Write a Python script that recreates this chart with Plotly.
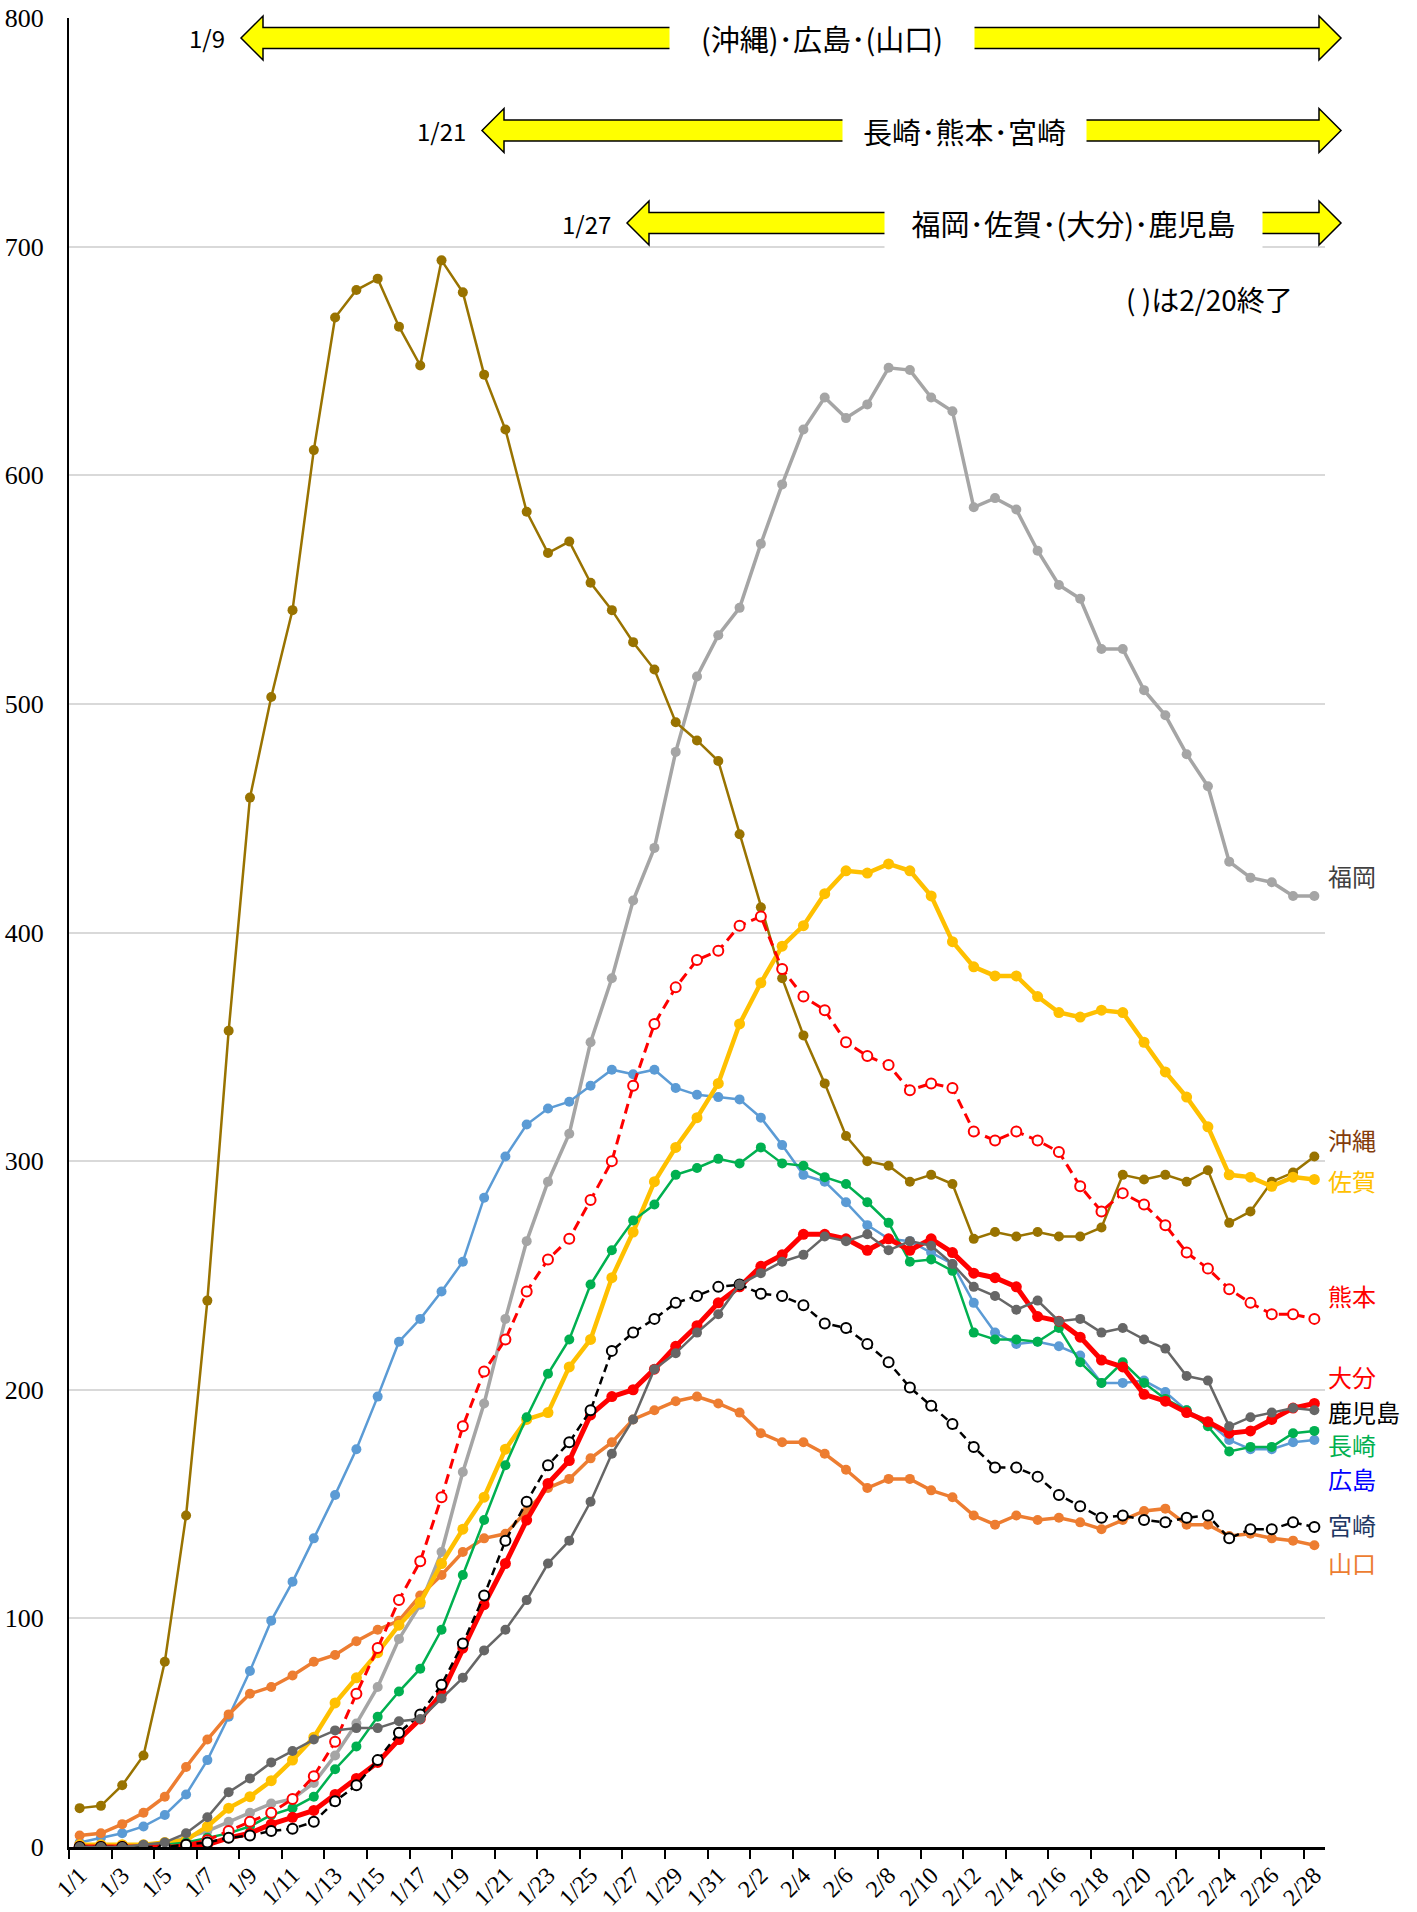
import plotly.graph_objects as go

dates = [f"1/{d}" for d in range(1, 32)] + [f"2/{d}" for d in range(1, 29)]

okinawa = [17,18,27,40,81,145,239,357,459,503,541,611,669,681,686,665,648,694,680,644,620,584,566,571,553,541,527,515,492,484,475,443,411,380,355,334,311,300,298,291,294,290,266,269,267,269,267,267,271,294,292,294,291,296,273,278,291,295,302]
fukuoka = [1,1,1,1,2,4,7,11,15,19,21,28,40,54,70,91,106,129,164,194,231,265,291,312,352,380,414,437,479,512,530,542,570,596,620,634,625,631,647,646,634,628,586,590,585,567,552,546,524,524,506,495,478,464,431,424,422,416,416]
saga = [1,1,1,1,2,3,9,17,22,29,38,48,63,74,85,97,107,124,139,153,174,187,190,210,222,249,269,291,306,319,334,360,378,394,403,417,427,426,430,427,416,396,385,381,381,372,365,363,366,365,352,339,328,315,294,293,289,293,292]
kumamoto = [0,0,0,0,0,1,3,7,11,15,21,31,46,67,87,108,125,153,184,208,222,243,257,266,283,300,333,360,376,388,392,403,407,384,372,366,352,346,342,331,334,332,313,309,313,309,304,289,278,286,281,272,260,253,244,238,233,233,231]
hiroshima = [2,4,6,9,14,23,38,57,77,99,116,135,154,174,197,221,231,243,256,284,302,316,323,326,333,340,338,340,332,329,328,327,319,307,294,291,282,272,266,265,260,255,238,225,220,221,219,215,203,203,204,199,191,186,178,174,174,177,178]
nagasaki = [0,0,0,0,1,2,4,6,9,14,17,22,34,44,57,68,78,95,119,143,167,188,207,222,246,261,274,281,294,297,301,299,306,299,298,293,290,282,273,256,257,252,225,222,222,221,227,212,203,212,203,196,191,184,173,175,175,181,182]
oita = [0,0,0,0,0,0,1,4,6,10,13,16,23,30,37,47,56,67,87,106,124,143,159,169,189,197,200,209,219,228,238,245,254,259,268,268,266,261,266,261,266,260,251,249,245,232,230,223,213,210,198,195,190,186,181,182,187,192,194]
kagoshima = [0,0,0,1,2,6,13,24,30,37,42,47,51,52,52,55,56,65,74,86,95,108,124,134,151,172,187,209,216,225,233,246,251,256,259,267,265,268,261,265,263,255,245,241,235,239,230,231,225,227,222,218,206,204,184,188,190,192,191]
miyazaki = [0,0,0,0,0,1,2,4,5,7,8,11,20,27,38,50,58,71,89,110,134,151,167,177,191,217,225,231,238,241,245,246,242,241,237,229,227,220,212,201,193,185,175,166,166,162,154,149,144,145,143,142,144,145,135,139,139,142,140]
yamaguchi = [5,6,10,15,22,35,47,58,67,70,75,81,84,90,95,99,110,119,129,135,137,147,157,161,170,177,187,191,195,197,194,190,181,177,177,172,165,157,161,161,156,153,145,141,145,143,144,142,139,143,147,148,141,141,136,137,135,134,132]

label_names = ["福岡", "沖縄", "佐賀", "熊本", "大分", "鹿児島", "長崎", "広島", "宮崎", "山口"]
label_y = [425, 309.5, 291.6, 241.3, 206, 190.6, 176, 161.3, 141.2, 124.6]
label_colors = ["#404040", "#843C0C", "#FFC000", "#FF0000", "#FF0000", "#000000", "#00B050", "#0000FF", "#1F3864", "#ED7D31"]

y_ticks = [0, 100, 200, 300, 400, 500, 600, 700, 800]

# layout geometry (pixels)
W, H = 1417, 1912
L, R, T, B = 69, 92, 18, 65
PW, PH = W - L - R, H - T - B

def px(x):
    return (x - L) / PW

def py(y):
    return (H - B - y) / PH

xs = list(range(len(dates)))

series = [
    ("福岡", fukuoka, "#A5A5A5", 3.5, None, False),
    ("沖縄", okinawa, "#997300", 2.5, None, False),
    ("広島", hiroshima, "#5B9BD5", 2.5, None, False),
    ("山口", yamaguchi, "#ED7D31", 3.5, None, False),
    ("佐賀", saga, "#FFC000", 4.5, None, False),
    ("長崎", nagasaki, "#00B050", 2.5, None, False),
    ("熊本", kumamoto, "#FF0000", 3, "10px,6px", True),
    ("大分", oita, "#FF0000", 5, None, False),
    ("宮崎", miyazaki, "#000000", 2.5, "8px,5px", True),
    ("鹿児島", kagoshima, "#666666", 2.5, None, False),
]

fig = go.Figure()
for name, vals, color, lw, dash, hollow in series:
    if hollow:
        marker = dict(symbol="circle", size=10, color="white", line=dict(color=color, width=2))
    else:
        marker = dict(symbol="circle", size=10 if lw < 4 else 11, color=color, line=dict(width=0))
    fig.add_trace(go.Scatter(
        x=xs, y=vals, mode="lines+markers", name=name,
        line=dict(color=color, width=lw, dash=dash),
        marker=marker, hoverinfo="skip"))

shapes = []
annotations = []

# arrows
arrow_rows = [
    dict(tip=241, right=1341, cy=38, text="(沖縄)･広島･(山口)", gap=(671, 973), date="1/9"),
    dict(tip=482, right=1341, cy=130.5, text="長崎･熊本･宮崎", gap=(844, 1085), date="1/21"),
    dict(tip=627, right=1341, cy=223, text="福岡･佐賀･(大分)･鹿児島", gap=(886, 1261), date="1/27"),
]
hl, hh, bh = 22, 22, 10.5
for r in arrow_rows:
    t, rt, cy = r["tip"], r["right"], r["cy"]
    pts = [(t, cy), (t + hl, cy - hh), (t + hl, cy - bh), (rt - hl, cy - bh), (rt - hl, cy - hh),
           (rt, cy), (rt - hl, cy + hh), (rt - hl, cy + bh), (t + hl, cy + bh), (t + hl, cy + hh)]
    path = "M " + " L ".join(f"{px(a):.5f},{py(b):.5f}" for a, b in pts) + " Z"
    shapes.append(dict(type="path", path=path, xref="paper", yref="paper",
                       fillcolor="#FFFF00", line=dict(color="black", width=1.5), layer="above"))
    g0, g1 = r["gap"]
    annotations.append(dict(x=px((g0 + g1) / 2), y=py(cy), xref="paper", yref="paper",
                            xanchor="center", yanchor="middle",
                            text=r["text"], showarrow=False, bgcolor="white",
                            width=g1 - g0, height=52, align="center",
                            font=dict(family="Noto Sans CJK JP", size=29, color="black")))
    annotations.append(dict(x=px(t - 14), y=py(cy), xref="paper", yref="paper",
                            text=r["date"], showarrow=False, xanchor="right", yanchor="middle",
                            font=dict(family="Noto Sans CJK JP", size=24, color="black")))

annotations.append(dict(x=px(1209), y=py(299), xref="paper", yref="paper",
                        xanchor="center", yanchor="middle",
                        text="( )は2/20終了", showarrow=False,
                        font=dict(family="Noto Sans CJK JP", size=28, color="black")))

for name, yv, col in zip(label_names, label_y, label_colors):
    annotations.append(dict(x=px(1326), y=yv, xref="paper", yref="y", text=name,
                            showarrow=False, xanchor="left", yanchor="middle",
                            font=dict(family="Noto Sans CJK JP", size=24, color=col)))

fig.update_layout(
    width=W, height=H,
    margin=dict(l=L, r=R, t=T, b=B, autoexpand=False),
    plot_bgcolor="white", paper_bgcolor="white",
    showlegend=False,
    shapes=shapes, annotations=annotations,
)
fig.update_xaxes(
    range=[-0.5, len(dates) - 0.5], automargin=False,
    tickmode="array", tickvals=xs[::2], ticktext=dates[::2],
    tickangle=-45, ticks="", ticklabelstandoff=2,
    tickfont=dict(family="Liberation Serif", size=24, color="black"),
    showline=True, linecolor="black", linewidth=2.5,
    showgrid=False, zeroline=False,
    minor=dict(tickmode="array", tickvals=[v - 0.5 for v in xs[::2]], ticks="outside",
               ticklen=9, tickwidth=2, tickcolor="black", showgrid=False),
)
fig.update_yaxes(
    range=[0, 800], tickmode="array", tickvals=y_ticks, automargin=False,
    ticks="", ticklabelstandoff=18,
    tickfont=dict(family="Liberation Serif", size=26, color="black"),
    showline=True, linecolor="black", linewidth=2,
    showgrid=True, gridcolor="#D9D9D9", gridwidth=2, zeroline=False,
)

fig.write_html("out.html", config={"displayModeBar": False},
               post_script="document.body.style.margin='0';")
